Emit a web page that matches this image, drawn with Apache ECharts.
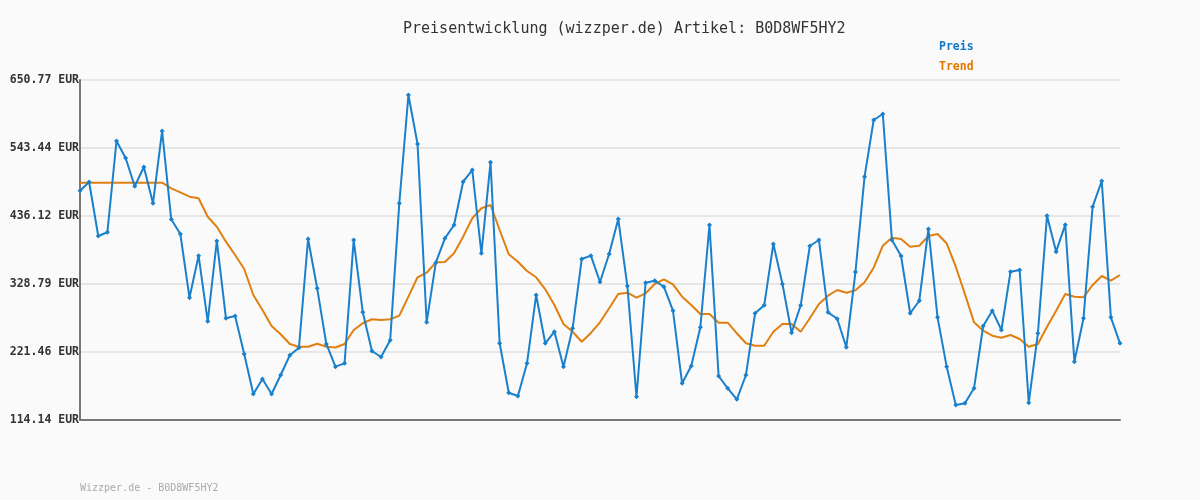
<!DOCTYPE html>
<html>
<head>
<meta charset="utf-8">
<script src="https://cdn.jsdelivr.net/npm/echarts@6/dist/echarts.min.js"></script>
<style>
html,body{margin:0;padding:0;background:#fafafa;}
#chart{width:1200px;height:500px;}
</style>
</head>
<body>
<div id="chart"></div>
<script>
const titleText = 'Preisentwicklung (wizzper.de) Artikel: B0D8WF5HY2';
const footerText = 'Wizzper.de - B0D8WF5HY2';
const yTicks = [114.14, 221.46, 328.79, 436.12, 543.44, 650.77];

const preis = [
  476.0, 489.8, 404.5, 410.4, 554.5, 527.7, 483.0, 513.5, 456.2, 570.3,
  430.9, 407.7, 307.2, 373.5, 269.9, 396.7, 274.7, 278.3, 218.3, 155.2,
  178.9, 155.2, 185.2, 216.3, 228.3, 399.8, 322.0, 234.1, 198.3, 203.6,
  398.2, 284.1, 223.0, 213.6, 239.9, 456.2, 627.1, 549.8, 268.3, 362.4,
  400.9, 421.9, 490.3, 508.7, 377.2, 520.9, 235.2, 157.2, 152.0, 203.6,
  311.4, 235.2, 253.5, 198.3, 258.9, 368.3, 373.5, 332.0, 376.1, 431.4,
  325.6, 150.9, 330.8, 334.0, 324.5, 286.7, 172.1, 199.4, 260.5, 421.9,
  183.6, 164.2, 146.8, 185.2, 282.6, 295.2, 391.9, 328.8, 251.9, 295.2,
  388.8, 398.2, 284.1, 274.0, 228.9, 347.7, 498.2, 587.6, 597.1, 398.2,
  373.0, 282.6, 302.4, 415.6, 276.2, 198.3, 137.8, 140.5, 164.2, 262.5,
  286.7, 256.2, 348.2, 350.9, 141.4, 251.0, 436.6, 379.8, 422.4, 206.2,
  274.7, 450.8, 491.4, 276.2, 235.2
];

const trend = [
  488.7, 488.7, 488.7, 488.7, 488.7, 488.7, 488.7, 488.7, 488.7, 488.7,
  479.8, 473.5, 466.6, 464.1, 435.0, 419.2, 395.6, 374.6, 352.5, 311.4,
  287.8, 262.5, 249.4, 234.1, 229.8, 229.8, 234.6, 229.8, 228.6, 234.1,
  256.2, 266.8, 273.1, 272.0, 273.1, 278.8, 308.8, 339.4, 346.6, 363.0,
  363.5, 377.2, 403.5, 432.5, 448.3, 453.5, 414.0, 375.7, 364.0, 349.3,
  339.4, 320.4, 295.6, 265.7, 253.5, 237.7, 251.5, 268.3, 290.4, 313.0,
  315.1, 307.2, 314.1, 328.8, 336.2, 328.3, 308.8, 295.6, 281.4, 281.4,
  267.7, 267.7, 251.0, 235.2, 231.4, 231.4, 253.5, 265.7, 265.7, 253.5,
  274.7, 297.2, 310.3, 319.3, 315.1, 318.8, 331.5, 354.5, 389.2, 401.9,
  399.8, 387.7, 389.2, 404.5, 407.7, 393.0, 356.1, 313.0, 268.3, 255.1,
  247.2, 244.0, 248.3, 242.0, 229.8, 234.1, 261.4, 286.7, 313.0, 308.8,
  307.8, 327.2, 341.4, 334.0, 343.0
];

const categories = preis.map((_, i) => String(i + 1));

const MONO = '"DejaVu Sans Mono", "Liberation Mono", monospace';
const BLUE = '#1a80cc';
const ORANGE = '#e08010';

const chart = echarts.init(document.getElementById('chart'), null, {renderer: 'canvas'});
chart.setOption({
  animation: false,
  backgroundColor: '#fafafa',
  title: [
    {
      text: titleText,
      left: 398,
      top: 17,
      textStyle: {fontFamily: MONO, fontSize: 15, fontWeight: 'normal', color: '#333'}
    },
    {
      text: footerText,
      left: 75,
      top: 478,
      textStyle: {fontFamily: MONO, fontSize: 10, fontWeight: 'normal', color: '#aaa'}
    }
  ],
  legend: {
    orient: 'vertical',
    left: 929,
    top: 35,
    icon: 'none',
    itemWidth: 0,
    itemHeight: 14,
    itemGap: 7,
    selectedMode: false,
    textStyle: {fontFamily: MONO, fontSize: 11.5, fontWeight: 'bold'},
    data: [
      {name: 'Preis', textStyle: {color: '#1078c4'}},
      {name: 'Trend', textStyle: {color: '#e07800'}}
    ]
  },
  grid: {left: 80, right: 80, top: 80, bottom: 80, containLabel: false},
  xAxis: {
    type: 'category',
    data: categories,
    boundaryGap: false,
    axisLine: {show: true, lineStyle: {color: '#777', width: 2}},
    axisTick: {show: false},
    axisLabel: {show: false},
    splitLine: {show: false}
  },
  yAxis: {
    type: 'value',
    min: yTicks[0],
    max: yTicks[yTicks.length - 1],
    axisLine: {show: true, lineStyle: {color: '#777', width: 2}},
    axisTick: {show: false, customValues: yTicks},
    axisLabel: {
      customValues: yTicks,
      margin: 1,
      fontFamily: MONO,
      fontSize: 11.5,
      fontWeight: 'bold',
      color: '#333',
      formatter: v => v.toFixed(2) + ' EUR'
    },
    splitLine: {show: true, lineStyle: {color: '#e6e6e6', width: 2}}
  },
  series: [
    {
      name: 'Preis',
      type: 'line',
      data: preis,
      color: BLUE,
      lineStyle: {color: BLUE, width: 2},
      itemStyle: {color: BLUE},
      symbol: 'diamond',
      symbolSize: 5,
      showSymbol: true,
      z: 3
    },
    {
      name: 'Trend',
      type: 'line',
      data: trend,
      color: ORANGE,
      lineStyle: {color: ORANGE, width: 2},
      itemStyle: {color: ORANGE},
      symbol: 'none',
      z: 2
    }
  ]
});
</script>
</body>
</html>
